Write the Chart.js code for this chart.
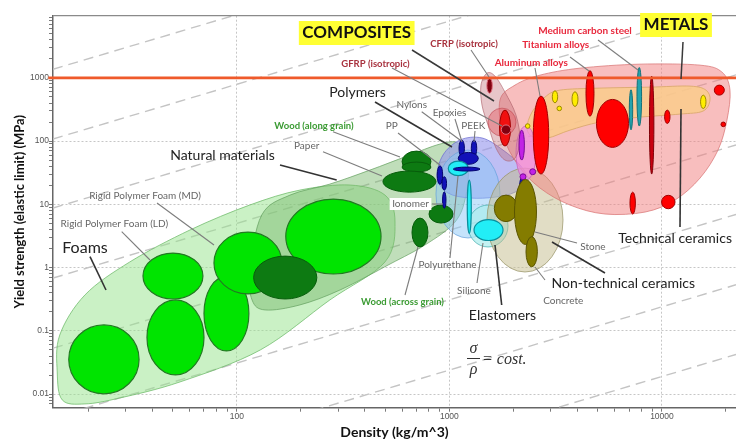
<!DOCTYPE html>
<html>
<head>
<meta charset="utf-8">
<title>Yield strength vs density</title>
<script src="https://cdn.jsdelivr.net/npm/chart.js@4.4.1/dist/chart.umd.min.js"></script>
<style>
  html, body { margin: 0; padding: 0; background: #fff; }
  canvas { display: block; }
</style>
</head>
<body>
<canvas id="ashby" width="736" height="439"></canvas>
<script>
// Axis extents: density in kg/m^3, yield strength in MPa
const densityRange = [13.66, 22300];
const strengthRange = [0.0061, 9600];
const densityDecades = [100, 1000, 10000];
const strengthDecades = [0.01, 0.1, 1, 10, 100, 1000];
const strengthLimit = 1000;

// Guide lines of constant specific strength sigma/rho (MPa per kg/m^3)
const specificStrengths = [100, 7.9, 0.64, 0.050, 0.0039, 0.00031, 0.000024, 0.0000019];

// Family envelopes, outline points as [density, strength]
const foamsHull = [[19.3,0.0070],[15.1,0.0081],[14.3,0.0224],[14.7,0.0861],[19.3,0.369],[31.4,1.23],[60.2,3.93],[115,9.75],[198,16.8],[341,20.2],[498,14.0],[555,5.25],[498,1.23],[274,0.308],[129,0.0499],[54.1,0.0156],[28.2,0.0087]];
const naturalHull = [[118,0.308],[115,0.916],[131,6.78],[178,14.0],[274,20.9],[423,34.8],[632,57.9],[903,89.7],[1098,93.0],[1224,50.1],[1197,14.0],[1063,5.25],[768,2.28],[526,1.14],[306,0.443],[198,0.257],[136,0.214]];
const polymerHull = [[874,26.0],[933,60.1],[1122,104],[1424,112],[1788,72.1],[2149,41.8],[2343,24.2],[2036,15.6],[1639,13.0],[1250,12.6],[985,15.1]];
const compositeHull = [[1408,767],[1503,1187],[1639,1064],[1827,594],[2058,257],[2149,104],[2036,53.9],[1827,50.1],[1657,77.5],[1520,179],[1424,370]];
const metalHull = [[1730,444],[2036,767],[2669,1103],[4116,1423],[7882,1646],[15100,1587],[19160,1230],[20890,639],[20220,215],[18350,72.1],[15100,26.0],[11520,11.7],[8322,7.55],[5395,7.03],[3693,9.75],[2669,18.1],[2103,41.8],[1788,124]];
const techCeramicHull = [[2318,160],[2447,287],[2817,496],[3314,639],[5110,688],[8785,713],[13550,740],[16110,639],[16820,444],[15600,298],[12150,267],[7882,239],[5110,200],[3693,149],[2909,112],[2474,116]];

// Rounded zones and material bubbles: [density min, density max, strength min, strength max]
const thermoplasticZone = [865, 1730, 2.94, 72.1];
const elastomerZone = [1224, 1887, 2.12, 9.75];
const masonryZone = [1503, 3424, 0.852, 37.4];
const glassZone = [2058, 2555, 24.2, 173];
const compositeCore = [1520, 2058, 120, 332];

const foamBubbles = [
  [16.2, 34.7, 0.0101, 0.124],
  [36.2, 69.3, 0.319, 1.70],
  [37.8, 70.1, 0.0201, 0.308],
  [70.1, 114, 0.0481, 0.736],
  [78.1, 163, 0.383, 3.65],
  [170, 477, 0.792, 12.1]
];
const naturalBubbles = [
  [120, 238, 0.319, 1.52],
  [599, 819, 32.4, 69.5],
  [599, 819, 32.4, 46.6],
  [487, 865, 15.6, 33.6],
  [802, 1040, 5.06, 9.75],
  [667, 793, 2.12, 6.07]
];
const polymerBubbles = [
  [1110, 1177, 56.7, 104],
  [1268, 1345, 56.7, 104],
  [1101, 1368, 42.9, 66.3],
  [877, 930, 20.7, 40.7],
  [923, 970, 16.8, 27.4],
  [929, 964, 8.65, 15.8],
  [2142, 2237, 15.8, 25.7]
];
const elastomerBubbles = [
  [988, 1227, 28.4, 48.3],
  [1214, 1268, 3.47, 24.2],
  [1306, 1788, 2.68, 5.75]
];
const ionomerBubbles = [[1044, 1393, 33.6, 38.8]];
const glassBubbles = [
  [2126, 2254, 50.1, 149],
  [2149, 2293, 24.5, 30.4],
  [2387, 2547, 29.4, 36.5]
];
const masonryBubbles = [
  [1627, 2096, 5.33, 14.0],
  [2025, 2569, 2.32, 24.7],
  [2293, 2594, 1.03, 3.08]
];
const fibreBubbles = [[1721, 1939, 83.4, 309]];
const fibreDarkBubbles = [[1501, 1592, 573, 989], [1755, 1943, 128, 180]];
const metalBubbles = [
  [2482, 2933, 30.1, 514],
  [4391, 4790, 248, 1295],
  [4920, 6960, 79.5, 456],
  [10290, 10910, 190, 309],
  [17630, 19650, 533, 767],
  [18950, 19920, 169, 200],
  [7073, 7500, 7.03, 15.6],
  [9960, 11520, 8.52, 13.9]
];
const steelBubbles = [[8735, 9163, 30.1, 1064]];
const alloySteelBubbles = [[7629, 8020, 173, 1455], [7021, 7284, 151, 646]];
const ceramicBubbles = [
  [3049, 3232, 403, 623],
  [3208, 3372, 302, 357],
  [3775, 4027, 353, 601],
  [2278, 2394, 159, 188],
  [15190, 16110, 327, 533]
];

// Callout layout (canvas pixels): label centre and leader line
const notes = [
  { text: 'COMPOSITES', at: [356.7, 33], kind: 'tag', lead: [[412, 50], [494, 101]] },
  { text: 'METALS', at: [676, 25], kind: 'tag', lead: [[683, 42], [681, 79]] },
  { text: 'CFRP (isotropic)', at: [464, 43.5], kind: 'fibre', lead: [[471, 50], [489, 77]] },
  { text: 'GFRP (isotropic)', at: [375.5, 63.5], kind: 'fibre', lead: [[392, 68], [502, 126]] },
  { text: 'Medium carbon steel', at: [585, 30.8], kind: 'metal', lead: [[598, 40], [638, 70]] },
  { text: 'Titanium alloys', at: [555.7, 45], kind: 'metal', lead: [[570, 57], [589, 71]] },
  { text: 'Aluminum alloys', at: [531.3, 63], kind: 'metal', lead: [[535, 68], [540, 96]] },
  { text: 'Polymers', at: [357.5, 92], kind: 'family', lead: [[375, 102], [452, 147]] },
  { text: 'Nylons', at: [411.7, 104.5], kind: 'grade', lead: [[421.7, 111.7], [460, 140]] },
  { text: 'Epoxies', at: [449.5, 113], kind: 'grade', lead: [[455, 119], [462, 142]] },
  { text: 'PEEK', at: [473.3, 126], kind: 'grade', lead: [[475, 131], [474, 142]] },
  { text: 'PP', at: [391.7, 126], kind: 'grade', lead: [[398, 133], [440, 165]] },
  { text: 'Wood (along grain)', at: [314, 126], kind: 'wood', lead: [[333, 131.7], [400, 157]] },
  { text: 'Paper', at: [306.7, 146], kind: 'grade', lead: [[323, 151.7], [382, 176]] },
  { text: 'Natural materials', at: [222.5, 155], kind: 'family', lead: [[280, 165], [336.7, 180]] },
  { text: 'Rigid Polymer Foam (MD)', at: [145, 196], kind: 'grade', lead: [[157, 203], [214, 245]] },
  { text: 'Rigid Polymer Foam (LD)', at: [114.3, 224], kind: 'grade', lead: [[121.7, 231.7], [150, 260]] },
  { text: 'Foams', at: [85, 247.5], kind: 'familyLarge', lead: [[90, 256.7], [106, 290]] },
  { text: 'Ionomer', at: [410.5, 204], kind: 'boxed', lead: [[431.7, 204], [443, 204]] },
  { text: 'Polyurethane', at: [447.5, 264.7], kind: 'grade', lead: [[450, 258], [458, 176]] },
  { text: 'Silicone', at: [474, 291], kind: 'grade', lead: [[477, 283], [483, 243]] },
  { text: 'Elastomers', at: [502.5, 315], kind: 'family', lead: [[501.7, 305], [495, 245]] },
  { text: 'Wood (across grain)', at: [402.5, 301.7], kind: 'wood', lead: [[405, 295], [418, 247]] },
  { text: 'Stone', at: [593, 246.7], kind: 'grade', lead: [[577, 243], [535, 232]] },
  { text: 'Non-technical ceramics', at: [623.3, 283.7], kind: 'family', lead: [[605, 273], [552, 242]] },
  { text: 'Concrete', at: [563.3, 300.8], kind: 'grade', lead: [[545, 280], [535, 267]] },
  { text: 'Technical ceramics', at: [618.3, 238.3], kind: 'family', align: 'left', lead: [[680, 227], [681, 109]] }
];

const noteStyles = {
  tag:         { font: 'bold 17px Lato', color: '#111', lead: '#3a3a3a', lw: 1.5, box: '#ffff33' },
  family:      { font: '14px Lato', color: '#222', lead: '#333', lw: 1.6 },
  familyLarge: { font: '16px Lato', color: '#222', lead: '#333', lw: 1.6 },
  grade:       { font: '10px Lato', color: '#666', lead: '#7d7d7d', lw: 1.1 },
  boxed:       { font: '10px Lato', color: '#666', lead: '#7d7d7d', lw: 1.1, box: '#fff' },
  metal:       { font: 'bold 10px Lato', color: '#e8283c', lead: '#7d7d7d', lw: 1.1 },
  fibre:       { font: 'bold 9.5px Lato', color: '#a8323e', lead: '#7d7d7d', lw: 1.1 },
  wood:        { font: 'bold 9.5px Lato', color: '#3b9b33', lead: '#7d7d7d', lw: 1.1 }
};

const isDecade = v => Math.abs(Math.log10(v) - Math.round(Math.log10(v))) < 1e-6;
const isWholeStep = v => {
  const s = v / Math.pow(10, Math.floor(Math.log10(v) + 1e-9));
  return Math.abs(s - Math.round(s)) < 1e-6;
};
const decadeLabel = list => v => {
  const hit = list.find(d => Math.abs(Math.log10(v) - Math.log10(d)) < 1e-6);
  return hit === undefined ? '' : String(hit);
};

const regionsPlugin = {
  id: 'ashbyRegions',
  beforeDatasetDraw(chart, args) {
    if (chart.data.datasets[args.index].id !== 'limit') return;
    const { ctx, chartArea: a } = chart;
    const X = v => chart.scales.x.getPixelForValue(v);
    const Y = v => chart.scales.y.getPixelForValue(v);
    ctx.save();
    ctx.beginPath();
    ctx.rect(a.left, a.top, a.right - a.left, a.bottom - a.top);
    ctx.clip();

    const hull = (pts, fill, stroke) => {
      const p = pts.map(([r, s]) => [X(r), Y(s)]);
      const n = p.length;
      ctx.beginPath();
      ctx.moveTo(p[0][0], p[0][1]);
      for (let i = 0; i < n; i++) {
        const p0 = p[(i - 1 + n) % n], p1 = p[i], p2 = p[(i + 1) % n], p3 = p[(i + 2) % n];
        ctx.bezierCurveTo(
          p1[0] + (p2[0] - p0[0]) / 6, p1[1] + (p2[1] - p0[1]) / 6,
          p2[0] - (p3[0] - p1[0]) / 6, p2[1] - (p3[1] - p1[1]) / 6,
          p2[0], p2[1]);
      }
      ctx.closePath();
      ctx.fillStyle = fill;
      ctx.fill();
      ctx.lineWidth = 1;
      ctx.strokeStyle = stroke;
      ctx.stroke();
    };
    const blob = ([r0, r1, s0, s1], fill, stroke, lw) => {
      const x0 = X(r0), x1 = X(r1), y0 = Y(s0), y1 = Y(s1);
      ctx.beginPath();
      ctx.ellipse((x0 + x1) / 2, (y0 + y1) / 2, Math.abs(x1 - x0) / 2, Math.abs(y1 - y0) / 2, 0, 0, Math.PI * 2);
      ctx.fillStyle = fill;
      ctx.fill();
      if (stroke) {
        ctx.lineWidth = lw || 1;
        ctx.strokeStyle = stroke;
        ctx.stroke();
      }
    };
    const blobs = (list, fill, stroke, lw) => list.forEach(b => blob(b, fill, stroke, lw));

    // family envelopes
    hull(foamsHull, 'rgba(150,228,140,0.50)', 'rgba(110,185,105,0.75)');
    hull(naturalHull, 'rgba(118,184,104,0.46)', 'rgba(100,160,95,0.7)');
    hull(polymerHull, 'rgba(150,150,238,0.62)', 'rgba(110,110,210,0.75)');
    blob(thermoplasticZone, 'rgba(140,200,248,0.50)', 'rgba(100,160,220,0.7)');
    blob(elastomerZone, 'rgba(170,236,236,0.70)', 'rgba(80,180,180,0.8)');
    blob(masonryZone, 'rgba(195,188,140,0.50)', 'rgba(150,145,100,0.7)');
    hull(metalHull, 'rgba(242,125,125,0.50)', 'rgba(215,110,110,0.7)');
    hull(techCeramicHull, 'rgba(250,205,140,0.85)', 'rgba(220,170,110,0.9)');
    blob(glassZone, 'rgba(240,140,228,0.70)', 'rgba(200,100,190,0.8)');
    hull(compositeHull, 'rgba(195,110,120,0.40)', 'rgba(170,90,100,0.6)');
    blob(compositeCore, 'rgba(228,90,100,0.45)', 'rgba(190,70,80,0.6)');

    // individual materials
    blobs(foamBubbles, '#00e400', '#227a22', 1.2);
    blobs(naturalBubbles, '#0d7a12', '#075c0b', 1);
    blobs(polymerBubbles, '#1212b8', '#05056e', 1);
    blobs(elastomerBubbles, '#22eef6', '#0a8e9c', 1.2);
    blobs(ionomerBubbles, '#1212b8', '#05056e', 1);
    blobs(glassBubbles, '#c222e6', '#7a0a96', 1);
    blobs(masonryBubbles, '#847c00', '#5a5400', 1);
    blobs(fibreBubbles, '#f01010', '#a00000', 1);
    blobs(fibreDarkBubbles, '#82000f', '#e07080', 1);
    blobs(metalBubbles, '#ff0000', '#a00000', 1);
    blobs(steelBubbles, '#c8000f', '#800008', 1);
    blobs(alloySteelBubbles, '#24a4ae', '#127078', 1);
    blobs(ceramicBubbles, '#ffee00', '#9c8a00', 1);

    ctx.restore();
  },
  afterDraw(chart) {
    const { ctx, chartArea: a } = chart;
    ctx.save();
    // upper frame edge
    ctx.strokeStyle = '#8a8a8a';
    ctx.lineWidth = 1.2;
    ctx.beginPath();
    ctx.moveTo(a.left, a.top);
    ctx.lineTo(a.right, a.top);
    ctx.stroke();

    // callouts
    notes.forEach(n => {
      const st = noteStyles[n.kind];
      ctx.strokeStyle = st.lead;
      ctx.lineWidth = st.lw;
      ctx.beginPath();
      ctx.moveTo(n.lead[0][0], n.lead[0][1]);
      ctx.lineTo(n.lead[1][0], n.lead[1][1]);
      ctx.stroke();
    });
    notes.forEach(n => {
      const st = noteStyles[n.kind];
      ctx.font = st.font;
      const w = ctx.measureText(n.text).width;
      const align = n.align || 'center';
      const left = align === 'left' ? n.at[0] : n.at[0] - w / 2;
      if (st.box) {
        const h = n.kind === 'tag' ? 24 : 12;
        const pad = n.kind === 'tag' ? 3.5 : 2.5;
        ctx.fillStyle = st.box;
        ctx.fillRect(left - pad, n.at[1] - h / 2, w + pad * 2, h);
      }
      ctx.fillStyle = st.color;
      ctx.textAlign = 'left';
      ctx.textBaseline = 'middle';
      ctx.fillText(n.text, left, n.at[1]);
    });

    // sigma / rho = cost.
    ctx.fillStyle = '#333';
    ctx.font = 'italic 16px "Liberation Serif"';
    ctx.textAlign = 'center';
    ctx.textBaseline = 'middle';
    ctx.fillText('\u03c3', 473.5, 349);
    ctx.fillText('\u03c1', 473.5, 370);
    ctx.strokeStyle = '#333';
    ctx.lineWidth = 1;
    ctx.beginPath();
    ctx.moveTo(467, 358.5);
    ctx.lineTo(480, 358.5);
    ctx.stroke();
    ctx.textAlign = 'left';
    ctx.fillText('= cost.', 482, 360);
    ctx.restore();
  }
};

const guideSets = specificStrengths.map(c => ({
  id: 'guide',
  data: densityRange.map(r => ({ x: r, y: c * r })),
  showLine: true,
  borderColor: '#c4c4c4',
  borderWidth: 1.4,
  borderDash: [10, 6],
  pointRadius: 0,
  order: 1
}));

// the 1000 MPa limit line runs slightly past the left axis, over the tick label
const limitSet = {
  id: 'limit',
  data: [{ x: densityRange[0] * 0.95, y: strengthLimit }, { x: densityRange[1], y: strengthLimit }],
  showLine: true,
  borderColor: '#ef5a2b',
  borderWidth: 2.6,
  pointRadius: 0,
  clip: { left: 6, top: 0, right: 0, bottom: 0 },
  order: 0
};

const tickFont = { family: '"Liberation Sans", Arial, sans-serif', size: 8.5 };
const gridFor = () => ({
  color: c => (c.tick && isDecade(c.tick.value)) ? '#c6c6c6' : 'rgba(0,0,0,0)',
  tickColor: c => (c.tick && isWholeStep(c.tick.value)) ? '#7a7a7a' : 'rgba(0,0,0,0)',
  tickLength: 4,
  lineWidth: 1
});

new Chart(document.getElementById('ashby'), {
  type: 'scatter',
  data: { datasets: [limitSet, ...guideSets] },
  options: {
    responsive: false,
    animation: false,
    devicePixelRatio: 1,
    layout: { padding: { top: 15.7, right: 0, left: 0, bottom: 0 } },
    plugins: { legend: { display: false }, tooltip: { enabled: false } },
    scales: {
      x: {
        type: 'logarithmic',
        min: densityRange[0],
        max: densityRange[1],
        afterFit: s => { s.height = 31.3; },
        border: { display: true, color: '#666', width: 1.5, dash: [2, 2] },
        grid: gridFor(),
        ticks: { autoSkip: false, maxRotation: 0, padding: 0, font: tickFont, color: '#555', callback: decadeLabel(densityDecades) },
        title: {
          display: true,
          text: 'Density (kg/m^3)',
          color: '#111',
          font: { family: 'Lato', weight: 'bold', size: 14, lineHeight: 0.92 },
          padding: { top: 0, bottom: 0 }
        }
      },
      y: {
        type: 'logarithmic',
        min: strengthRange[0],
        max: strengthRange[1],
        afterFit: s => { s.width = 53; },
        border: { display: true, color: '#666', width: 1.5, dash: [2, 2] },
        grid: gridFor(),
        ticks: { autoSkip: false, padding: 0, font: tickFont, color: '#555', callback: decadeLabel(strengthDecades) },
        title: {
          display: true,
          text: 'Yield strength (elastic limit) (MPa)',
          color: '#111',
          font: { family: 'Lato', weight: 'bold', size: 13, lineHeight: 1.2 },
          padding: { top: 12, bottom: 0 }
        }
      }
    }
  },
  plugins: [regionsPlugin]
});
</script>
</body>
</html>
